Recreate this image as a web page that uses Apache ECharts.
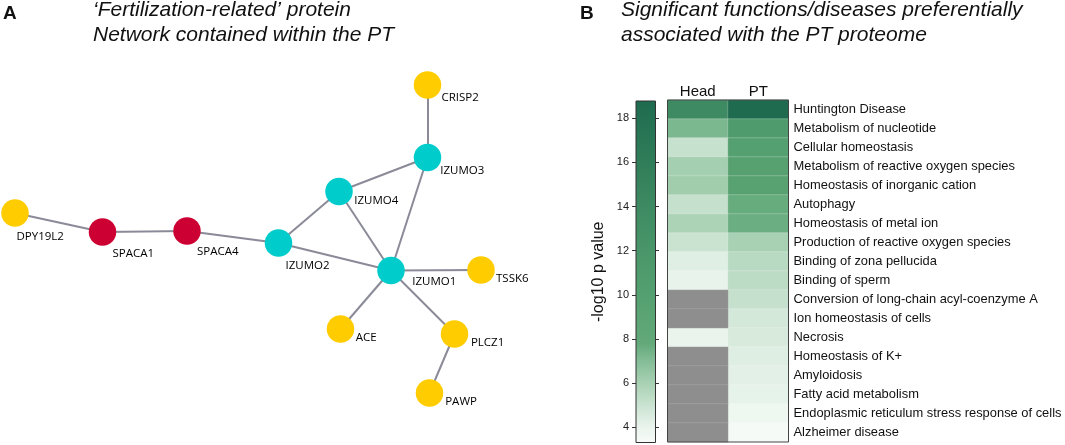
<!DOCTYPE html>
<html><head><meta charset="utf-8">
<script src="https://cdn.jsdelivr.net/npm/echarts@6/dist/echarts.min.js"></script>
<style>html,body{margin:0;padding:0;background:#fff}#c{width:1065px;height:445px}</style>
</head><body><div id="c"></div>
<script>
// ---------- Panel A: network ----------
const nodeNames  = ['DPY19L2','SPACA1','SPACA4','IZUMO2','IZUMO1','IZUMO4','IZUMO3','CRISP2','TSSK6','ACE','PLCZ1','PAWP'];
const nodeGroups = ['other','spaca','spaca','izumo','izumo','izumo','izumo','other','other','other','other','other'];
const nodeX = [15, 102.5, 187, 278.5, 391, 339, 427.5, 427.5, 481, 340.5, 454.5, 429.5];
const nodeY = [213, 232, 231, 243, 270.5, 191.5, 157.5, 85, 270, 329, 334, 393];
const edges = [['DPY19L2','SPACA1'],['SPACA1','SPACA4'],['SPACA4','IZUMO2'],['IZUMO2','IZUMO4'],['IZUMO2','IZUMO1'],['IZUMO4','IZUMO3'],['IZUMO4','IZUMO1'],['IZUMO3','IZUMO1'],['IZUMO3','CRISP2'],['IZUMO1','TSSK6'],['IZUMO1','ACE'],['IZUMO1','PLCZ1'],['PLCZ1','PAWP']];

// ---------- Panel B: heatmap ----------
const fractions = ['Head','PT'];
const functions = ['Huntington Disease','Metabolism of nucleotide','Cellular homeostasis','Metabolism of reactive oxygen species','Homeostasis of inorganic cation','Autophagy','Homeostasis of metal ion','Production of reactive oxygen species','Binding of zona pellucida','Binding of sperm','Conversion of long-chain acyl-coenzyme A','Ion homeostasis of cells','Necrosis','Homeostasis of K+','Amyloidosis','Fatty acid metabolism','Endoplasmic reticulum stress response of cells','Alzheimer disease'];
const headValues = [14.0, 7.2, 5.1, 6.1, 6.2, 5.15, 5.9, 5.0, 4.3, 4.05, null, null, 4.0, null, null, null, null, null];
const ptValues   = [18.7, 11.0, 10.0, 9.8, 9.5, 7.7, 7.6, 6.0, 5.5, 5.4, 5.15, 4.7, 4.6, 4.35, 4.2, 4.1, 3.75, 3.4];
const colorTicks = [4, 6, 8, 10, 12, 14, 16, 18];
const scaleMin = 3.31, scaleMax = 18.78;

// ---------- styles ----------
const groupColors = {other:'#FFCC00', spaca:'#CC0033', izumo:'#00CCCC'};
const labelOffsets = {DPY19L2:[1.5,24], SPACA1:[10,22], SPACA4:[10,21], IZUMO2:[7,22.4], IZUMO1:[21.3,11], IZUMO4:[15.3,9], IZUMO3:[12.7,13.7], CRISP2:[14,12.3], TSSK6:[15,9], ACE:[15.3,8.3], PLCZ1:[16.4,8.7], PAWP:[15.7,9]};
const NODE_SIZE = 27.5;
const colorAnchors = [[3.31,'#f7fbf8'],[4,'#eaf4ed'],[5,'#cae3d1'],[6,'#a8d1b3'],[7,'#84bd97'],[7.8,'#63a979'],[10,'#55a070'],[12,'#4a966a'],[14,'#3e8a62'],[16,'#307d59'],[18,'#237152'],[18.78,'#1d6a4e']];
const FONT = 'Liberation Sans, Arial, sans-serif';

function hex2rgb(h){return [parseInt(h.substr(1,2),16),parseInt(h.substr(3,2),16),parseInt(h.substr(5,2),16)];}
function colorAt(v){
  for(let i=0;i<colorAnchors.length-1;i++){
    const [v0,c0]=colorAnchors[i],[v1,c1]=colorAnchors[i+1];
    if(v<=v1||i===colorAnchors.length-2){
      const t=Math.max(0,Math.min(1,(v-v0)/(v1-v0)));
      const a=hex2rgb(c0),b=hex2rgb(c1);
      return 'rgb('+a.map((x,k)=>Math.round(x+(b[k]-x)*t)).join(',')+')';
    }
  }
}
const N_STEPS = 120;
const rampColors = [];
for(let i=0;i<=N_STEPS;i++) rampColors.push(colorAt(scaleMin+(scaleMax-scaleMin)*i/N_STEPS));
const gradientStops = colorAnchors.map(([v,c])=>({offset:(v-scaleMin)/(scaleMax-scaleMin), color:c}));

const graphNodes = nodeNames.map((n,i)=>({
  name:n, value:[nodeX[i],nodeY[i]],
  itemStyle:{color:groupColors[nodeGroups[i]]},
  label:{position:[NODE_SIZE/2+labelOffsets[n][0], NODE_SIZE/2+labelOffsets[n][1]]}
}));
const graphLinks = edges.map(([s,t])=>({source:s,target:t}));

const heatData = [], naData = [];
functions.forEach((f,r)=>{
  if(headValues[r]==null) naData.push([0,r,0]); else heatData.push([0,r,headValues[r]]);
  if(ptValues[r]==null) naData.push([1,r,0]); else heatData.push([1,r,ptValues[r]]);
});

const chart = echarts.init(document.getElementById('c'), null, {renderer:'canvas'});
chart.setOption({
  animation:false,
  backgroundColor:'#fff',
  textStyle:{fontFamily:FONT},
  title:[
    {text:'A', left:3, top:4, padding:0, textStyle:{fontSize:19, fontWeight:'bold', color:'#111', fontFamily:FONT, lineHeight:19}},
    {text:'‘Fertilization-related’ protein\nNetwork contained within the PT', left:93, top:-2, padding:0,
     textStyle:{fontSize:21, fontStyle:'italic', fontWeight:'normal', color:'#111', fontFamily:FONT, lineHeight:24.5}},
    {text:'B', left:580, top:4, padding:0, textStyle:{fontSize:19, fontWeight:'bold', color:'#111', fontFamily:FONT, lineHeight:19}},
    {text:'Significant functions/diseases preferentially\nassociated with the PT proteome', left:621, top:-2, padding:0,
     textStyle:{fontSize:21, fontStyle:'italic', fontWeight:'normal', color:'#111', fontFamily:FONT, lineHeight:24.5}}
  ],
  grid:[
    {left:0, top:0, width:540, height:445},
    {left:667.5, top:100, width:121, height:342, show:true, borderColor:'#444', borderWidth:1, backgroundColor:'transparent', z:10},
    {left:636, top:101, width:19.5, height:341.5, show:true, borderColor:'#333', borderWidth:1, backgroundColor:'transparent', z:10}
  ],
  xAxis:[
    {gridIndex:0, type:'value', min:0, max:540, show:false},
    {gridIndex:1, type:'category', data:fractions, position:'top',
     axisLine:{show:false}, axisTick:{show:false}, splitLine:{show:false},
     axisLabel:{fontSize:15, color:'#111', margin:1, fontFamily:FONT}},
    {gridIndex:2, type:'category', data:['scale'], show:false}
  ],
  yAxis:[
    {gridIndex:0, type:'value', min:0, max:445, inverse:true, show:false},
    {gridIndex:1, type:'category', data:functions, inverse:true, position:'right',
     axisLine:{show:false}, axisTick:{show:false}, splitLine:{show:false},
     axisLabel:{fontSize:12.9, color:'#111', margin:5, fontFamily:FONT}},
    {gridIndex:2, type:'value', min:scaleMin, max:scaleMax, position:'left',
     axisLine:{show:false}, splitLine:{show:false},
     axisTick:{show:true, length:4, customValues:colorTicks, lineStyle:{color:'#333'}},
     axisLabel:{fontSize:11, color:'#222', margin:7, customValues:colorTicks, fontFamily:FONT},
     name:'-log10 p value', nameLocation:'middle', nameRotate:90, nameGap:29,
     nameTextStyle:{fontSize:16, color:'#111', fontFamily:FONT}},
    {gridIndex:2, type:'value', min:scaleMin, max:scaleMax, position:'right',
     axisLine:{show:false}, splitLine:{show:false},
     axisTick:{show:true, length:3.5, customValues:colorTicks, lineStyle:{color:'#333'}},
     axisLabel:{show:false}}
  ],
  visualMap:[
    {type:'continuous', show:false, seriesIndex:1, min:scaleMin, max:scaleMax, inRange:{color:rampColors}},
    {type:'continuous', show:false, seriesIndex:2, min:0, max:1, inRange:{color:['#8e8e8e','#8e8e8e']}}
  ],
  series:[
    {type:'graph', coordinateSystem:'cartesian2d', xAxisIndex:0, yAxisIndex:0,
     symbol:'circle', symbolSize:NODE_SIZE, data:graphNodes, links:graphLinks,
     lineStyle:{color:'#8a8a98', width:2, opacity:1, curveness:0},
     label:{show:true, fontSize:11.5, color:'#000', fontFamily:'Open Sans', align:'left', verticalAlign:'middle'},
     emphasis:{disabled:true}, silent:true},
    {type:'heatmap', xAxisIndex:1, yAxisIndex:1, data:heatData,
     itemStyle:{borderColor:'rgba(255,255,255,0.22)', borderWidth:1},
     emphasis:{disabled:true}, silent:true},
    {type:'heatmap', xAxisIndex:1, yAxisIndex:1, data:naData,
     itemStyle:{borderColor:'rgba(255,255,255,0.12)', borderWidth:1},
     emphasis:{disabled:true}, silent:true},
    {type:'bar', xAxisIndex:2, yAxisIndex:2, stack:'cb', data:[scaleMin], barWidth:'100%',
     itemStyle:{color:'rgba(0,0,0,0)'}, silent:true},
    {type:'bar', xAxisIndex:2, yAxisIndex:2, stack:'cb', data:[scaleMax-scaleMin], barWidth:'100%',
     itemStyle:{color:new echarts.graphic.LinearGradient(0,1,0,0,gradientStops)}, silent:true}
  ]
});
</script></body></html>
